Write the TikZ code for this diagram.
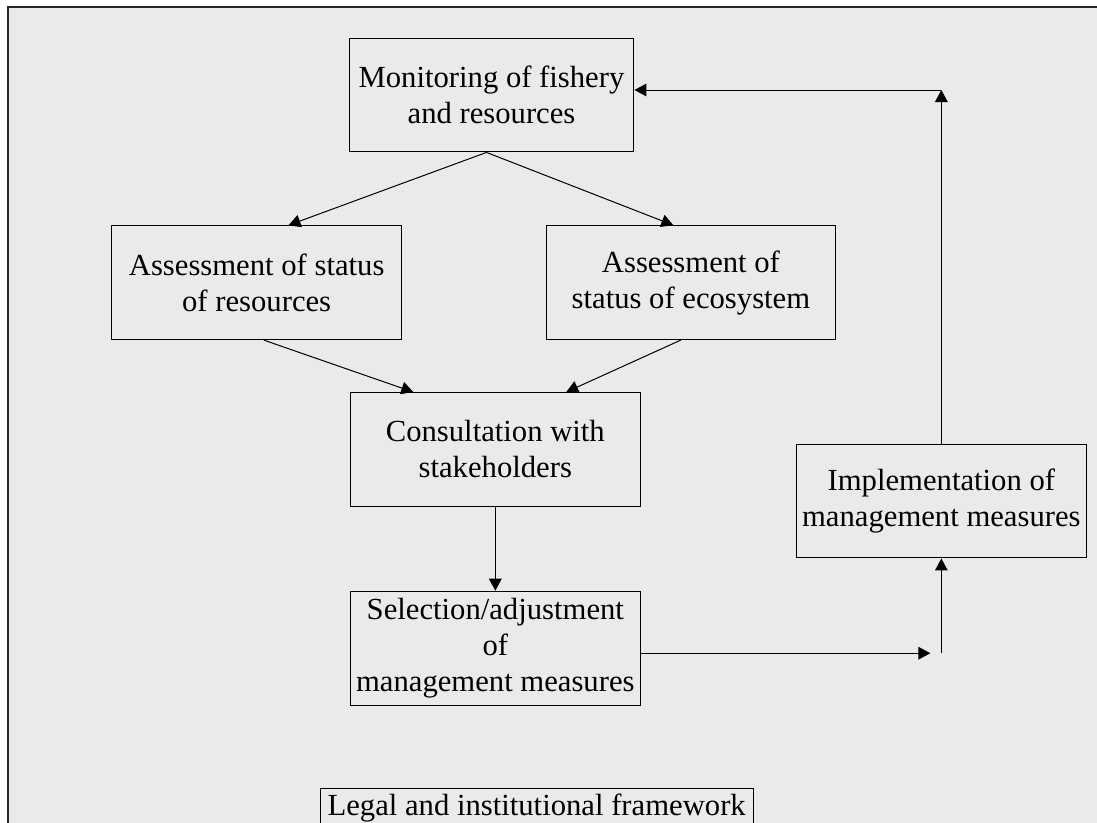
\documentclass[tikz,border=0pt]{standalone}
\usepackage{fontspec}
\setmainfont{Liberation Serif}
\usepackage{xcolor}
\usepackage{tikz}
\usetikzlibrary{arrows.meta, positioning, calc}

\definecolor{panel}{HTML}{EAEAEA}

\begin{document}
\begin{tikzpicture}[
  every node/.style={font=\fontsize{23}{27}\selectfont},
  box/.style={rectangle, draw=black, line width=0.75pt, minimum width=7.64cm,
              minimum height=3.0cm, align=center, inner sep=0pt},
  legalbox/.style={rectangle, draw=black, line width=0.75pt, minimum width=11.41cm,
                   minimum height=1.08cm, align=center, inner sep=0pt},
  arr/.style={-{Triangle[length=9pt, width=9.5pt]}, line width=0.75pt, black},
  frameline/.style={line width=1.5pt, black!85},
]
  \useasboundingbox (0,0) rectangle (28.914,-21.692);
  \fill[white] (0,0) rectangle (28.914,-21.692);
  \clip (0,0) rectangle (28.914,-21.692);
  \fill[panel] (0.211,-0.184) rectangle (28.914,-21.692);
  \draw[frameline] (0.211,-21.692) -- (0.211,-0.184) -- (28.914,-0.184);

  \node[box, minimum width=7.51cm] (mon) at (12.955,-2.504) {Monitoring of fishery\\and resources};
  \node[box, below=1.92cm of mon, xshift=-6.19cm] (res)  {Assessment of status\\of resources};
  \node[box, right=3.78cm of res]                 (eco)  {Assessment of\\status of ecosystem};
  \node[box, below=1.37cm of res, xshift=6.29cm]  (cons) {Consultation with\\stakeholders};
  \node[box, below=2.21cm of cons]                (sel)  {Selection/adjustment\\of\\management measures};
  \node[box, right=4.09cm of cons, yshift=-1.36cm] (impl) {Implementation of\\management measures};
  \node[legalbox, below=2.16cm of sel, xshift=1.09cm] (legal) {Legal and institutional framework};

  \coordinate (turn)   at (impl.south |- sel.-2);
  \coordinate[left=0.29cm of turn] (tip);
  \coordinate (corner) at (impl.north |- mon.2);

  % Arrows
  \draw[arr] (mon.265)  -- (res.61);
  \draw[arr] (mon.265)  -- (eco.107);
  \draw[arr] (res.277)  -- (cons.145);
  \draw[arr] (eco.260)  -- (cons.39);
  \draw[arr] (cons.south) -- (sel.north);
  \draw[arr] (sel.-2)   -- (tip);
  \draw[arr] (turn)     -- (impl.south);
  \draw[arr] (impl.north) -- (corner);
  \draw[arr] (corner)   -- (mon.2);
\end{tikzpicture}
\end{document}
